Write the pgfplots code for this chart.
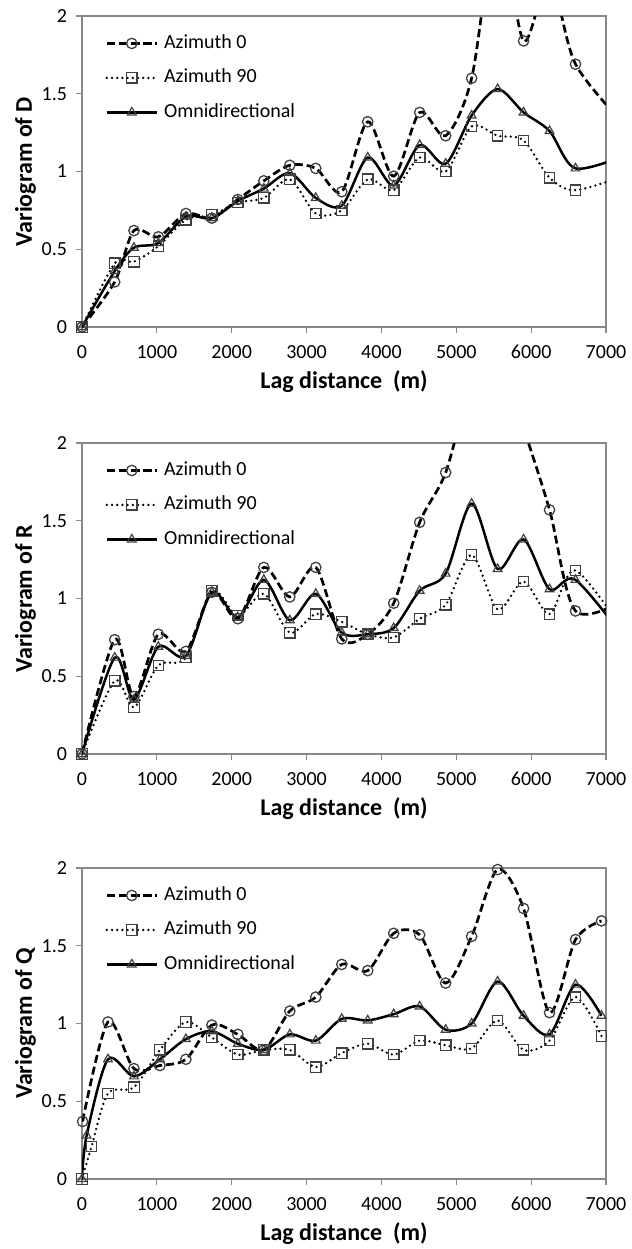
\documentclass[border=0pt]{standalone}
\usepackage{pgfplots}
\pgfplotsset{compat=1.18}
\usepackage{fontspec}
\setmainfont{Carlito}

\definecolor{axgray}{HTML}{898989}
\definecolor{mkgray}{HTML}{404040}

% legend sample: a 25pt line with the mark in its middle
\newcommand\lgimg[1]{\draw[mark repeat=2,mark phase=2,#1] plot coordinates {(0pt,0pt) (12.5pt,0pt) (25pt,0pt)};}
\pgfplotsset{legend image code/.code={\lgimg{#1}}}

\pgfplotsset{
  vario/.style={
    scale only axis, width=262pt, height=155.5pt,
    xmin=0, xmax=7000, ymin=0, ymax=2,
    xtick={0,1000,...,7000}, ytick={0,0.5,1,1.5,2},
    tick pos=left, tick align=outside, major tick length=3pt,
    axis line style={draw=axgray, line width=0.6pt},
    tick style={draw=axgray, line width=0.6pt},
    tick label style={font=\fontsize{10}{12}\selectfont},
    xticklabel style={yshift=-2.5pt},
    yticklabel style={xshift=-1pt},
    /pgf/number format/assume math mode=true,
    /pgf/number format/1000 sep={},
    label style={font=\bfseries\fontsize{12}{14}\selectfont},
    xlabel={Lag distance\ \ (m)},
    xlabel style={at={(axis description cs:0.5,-0.175)}, anchor=center},
    ylabel style={at={(axis description cs:-0.108,0.5)}, anchor=center},
    legend cell align=left,
    legend style={draw=none, fill=none, inner sep=0pt,
      at={(axis description cs:0.044,0.942)}, anchor=north west,
      row sep=8.25pt, column sep=3pt,
      nodes={inner sep=0pt, text height=7pt, text depth=2pt},
      font=\fontsize{10}{12}\selectfont},
  },
  lg/.style={legend image code/.code={\lgimg{##1}}},
  az0/.style={black, line width=1.35pt, dash pattern=on 4pt off 2pt, /tikz/smooth, /tikz/tension=0.5,
    mark=o, mark size=2.6pt, mark options={solid, draw=mkgray, line width=0.65pt}, lg},
  az90/.style={black, line width=1.3pt, dash pattern=on 0pt off 2.6pt, line cap=round, /tikz/smooth, /tikz/tension=0.5,
    mark=square, mark size=2.6pt, mark options={solid, draw=mkgray, line width=0.65pt}, lg},
  omni/.style={black, line width=1.25pt, /tikz/smooth, /tikz/tension=0.5,
    mark=triangle, mark size=2.5pt, mark options={solid, draw=mkgray, line width=0.6pt}, lg},
}

\begin{document}
\begin{tikzpicture}
\useasboundingbox (0,0) rectangle (316pt,-624.5pt);

% ---- D ----
\begin{axis}[vario, at={(41pt,-8pt)}, anchor=north west, ylabel={Variogram of D}]
\addplot[az0] coordinates {
(0,0) (437,0.29) (694,0.62) (1020,0.58) (1388,0.73) (1735,0.70) (2082,0.82) (2429,0.94)
(2776,1.04) (3123,1.02) (3470,0.87) (3817,1.32) (4164,0.97) (4511,1.38) (4858,1.23)
(5205,1.60) (5552,2.60) (5899,1.84) (6246,2.25) (6593,1.69) (7287,1.28)};
\addlegendentry{Azimuth 0}
\addplot[az90] coordinates {
(0,0) (437,0.41) (694,0.42) (1020,0.52) (1388,0.69) (1735,0.72) (2082,0.80) (2429,0.83)
(2776,0.95) (3123,0.73) (3470,0.75) (3817,0.95) (4164,0.88) (4511,1.09) (4858,1.00)
(5205,1.29) (5552,1.23) (5899,1.20) (6246,0.96) (6593,0.88) (7287,0.98)};
\addlegendentry{Azimuth 90}
\addplot[omni] coordinates {
(0,0) (437,0.36) (694,0.51) (1020,0.54) (1388,0.71) (1735,0.70) (2082,0.81) (2429,0.89)
(2776,0.99) (3123,0.83) (3470,0.78) (3817,1.09) (4164,0.91) (4511,1.17) (4858,1.05)
(5205,1.36) (5552,1.53) (5899,1.38) (6246,1.26) (6593,1.02) (7287,1.11)};
\addlegendentry{Omnidirectional}
\end{axis}

% ---- R ----
\begin{axis}[vario, at={(41pt,-221.5pt)}, anchor=north west, ylabel={Variogram of R}]
\addplot[az0] coordinates {
(0,0) (437,0.735) (694,0.37) (1020,0.77) (1388,0.66) (1735,1.04) (2082,0.87) (2429,1.20)
(2776,1.01) (3123,1.20) (3470,0.74) (3817,0.77) (4164,0.97) (4511,1.49) (4858,1.81)
(5205,2.40) (5552,2.65) (5899,2.10) (6246,1.57) (6593,0.92) (7287,1.00)};
\addlegendentry{Azimuth 0}
\addplot[az90] coordinates {
(0,0) (437,0.47) (694,0.30) (1020,0.57) (1388,0.62) (1735,1.05) (2082,0.89) (2429,1.03)
(2776,0.78) (3123,0.90) (3470,0.85) (3817,0.77) (4164,0.75) (4511,0.87) (4858,0.96)
(5205,1.28) (5552,0.93) (5899,1.11) (6246,0.90) (6593,1.18) (7287,0.75)};
\addlegendentry{Azimuth 90}
\addplot[omni] coordinates {
(0,0) (437,0.62) (694,0.35) (1020,0.69) (1388,0.63) (1735,1.04) (2082,0.88) (2429,1.12)
(2776,0.86) (3123,1.03) (3470,0.78) (3817,0.77) (4164,0.81) (4511,1.05) (4858,1.16)
(5205,1.61) (5552,1.19) (5899,1.38) (6246,1.06) (6593,1.12) (7287,0.72)};
\addlegendentry{Omnidirectional}
\end{axis}

% ---- Q ----
\begin{axis}[vario, at={(41pt,-434pt)}, anchor=north west, ylabel={Variogram of Q}]
\addplot[az0] coordinates {
(8,0.37) (347,1.01) (694,0.71) (1041,0.73) (1388,0.77) (1735,0.99) (2082,0.93) (2429,0.83)
(2776,1.08) (3123,1.17) (3470,1.38) (3817,1.34) (4164,1.58) (4511,1.57) (4858,1.26)
(5205,1.56) (5552,1.99) (5899,1.74) (6246,1.07) (6593,1.54) (6940,1.66)};
\addlegendentry{Azimuth 0}
\addplot[az90] coordinates {
(0,0) (128,0.21) (347,0.55) (694,0.59) (1041,0.83) (1388,1.01) (1735,0.91) (2082,0.80)
(2429,0.83) (2776,0.83) (3123,0.72) (3470,0.81) (3817,0.87) (4164,0.80) (4511,0.89)
(4858,0.86) (5205,0.84) (5552,1.02) (5899,0.83) (6246,0.89) (6593,1.17) (6940,0.92)};
\addlegendentry{Azimuth 90}
\addplot[omni] coordinates {
(0,0) (62,0.28) (347,0.77) (694,0.66) (1041,0.77) (1388,0.90) (1735,0.95) (2082,0.87)
(2429,0.83) (2776,0.93) (3123,0.89) (3470,1.03) (3817,1.02) (4164,1.06) (4511,1.11)
(4858,0.96) (5205,1.00) (5552,1.27) (5899,1.05) (6246,0.93) (6593,1.25) (6940,1.05)};
\addlegendentry{Omnidirectional}
\end{axis}
\end{tikzpicture}
\end{document}
